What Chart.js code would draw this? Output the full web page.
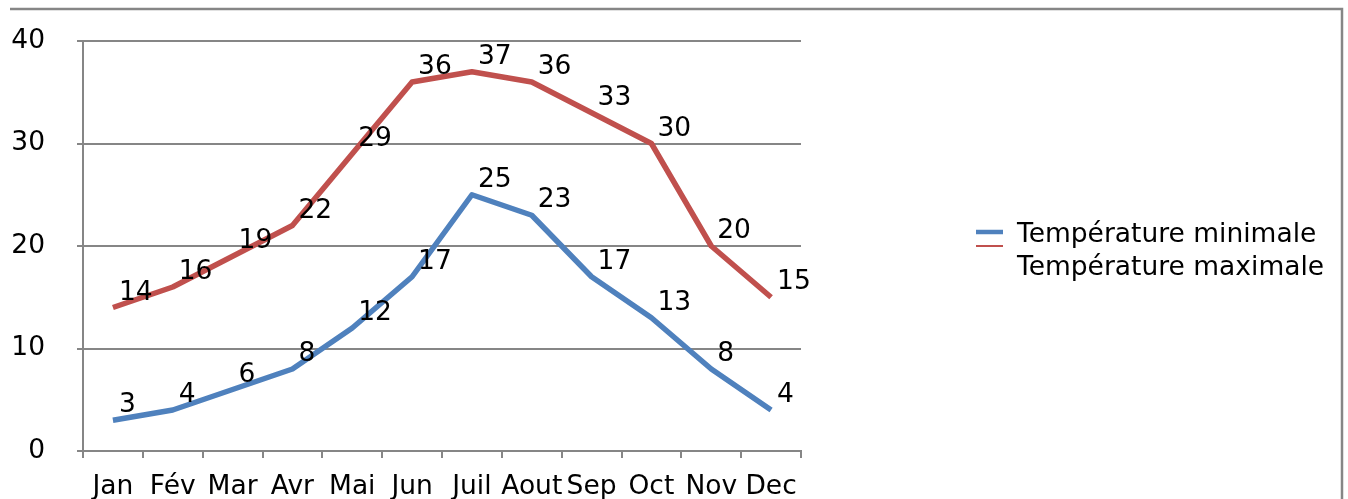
<!DOCTYPE html>
<html lang="fr">
<head>
<meta charset="utf-8">
<title>Températures mensuelles</title>
<script src="https://cdn.jsdelivr.net/npm/chart.js@4.4.1/dist/chart.umd.min.js"></script>
<style>
  html, body { margin: 0; padding: 0; background: #ffffff; }
  #wrap { width: 1348px; height: 499px; }
</style>
</head>
<body>
<div id="wrap"><canvas id="chart" width="1348" height="499"></canvas></div>
<script>
// Mois de l'année
const months = ['Jan', 'Fév', 'Mar', 'Avr', 'Mai', 'Jun', 'Juil', 'Aout', 'Sep', 'Oct', 'Nov', 'Dec'];
// Températures (°C)
const tempMin = [3, 4, 6, 8, 12, 17, 25, 23, 17, 13, 8, 4];
const tempMax = [14, 16, 19, 22, 29, 36, 37, 36, 33, 30, 20, 15];
// Graduations de l'axe vertical
const yTicks = [0, 10, 20, 30, 40];

const FONT = "'DejaVu Sans', Verdana, sans-serif";
const FONT_SIZE = 26.5;
const GRID = '#868686';

// Cadre extérieur (bord haut et bord droit)
const framePlugin = {
  id: 'frame',
  beforeDraw(chart) {
    const ctx = chart.ctx;
    ctx.save();
    ctx.strokeStyle = GRID;
    ctx.lineWidth = 2.5;
    ctx.beginPath();
    ctx.moveTo(10, 9);
    ctx.lineTo(1342, 9);
    ctx.lineTo(1342, chart.height + 2);
    ctx.stroke();
    ctx.restore();
  }
};

// Étiquettes de valeur à droite de chaque point
const valueLabels = {
  id: 'valueLabels',
  afterDatasetsDraw(chart) {
    const ctx = chart.ctx;
    ctx.save();
    ctx.font = FONT_SIZE + 'px ' + FONT;
    ctx.fillStyle = '#000000';
    ctx.textAlign = 'left';
    ctx.textBaseline = 'alphabetic';
    chart.data.datasets.forEach((ds, i) => {
      const meta = chart.getDatasetMeta(i);
      meta.data.forEach((pt, j) => {
        ctx.fillText(String(ds.data[j]), pt.x + 6, pt.y - 8);
      });
    });
    ctx.restore();
  }
};

// Légende à droite du graphique
const sideLegend = {
  id: 'sideLegend',
  afterDraw(chart) {
    const ctx = chart.ctx;
    const markerW = [4.5, 2];
    const markerY = [232, 246];
    const textY = [242, 275];
    ctx.save();
    chart.data.datasets.forEach((ds, i) => {
      ctx.strokeStyle = ds.borderColor;
      ctx.lineWidth = markerW[i];
      ctx.beginPath();
      ctx.moveTo(976, markerY[i]);
      ctx.lineTo(1003, markerY[i]);
      ctx.stroke();
      ctx.font = FONT_SIZE + 'px ' + FONT;
      ctx.fillStyle = '#000000';
      ctx.textAlign = 'left';
      ctx.textBaseline = 'alphabetic';
      ctx.fillText(ds.label, 1017, textY[i]);
    });
    ctx.restore();
  }
};

new Chart(document.getElementById('chart'), {
  type: 'line',
  data: {
    labels: months,
    datasets: [
      {
        label: 'Température minimale',
        data: tempMin,
        borderColor: '#4F81BD',
        backgroundColor: '#4F81BD',
        borderWidth: 5.5,
        pointRadius: 0,
        tension: 0,
        borderJoinStyle: 'round'
      },
      {
        label: 'Température maximale',
        data: tempMax,
        borderColor: '#C0504D',
        backgroundColor: '#C0504D',
        borderWidth: 5.5,
        pointRadius: 0,
        tension: 0,
        borderJoinStyle: 'round'
      }
    ]
  },
  options: {
    responsive: false,
    animation: false,
    devicePixelRatio: 1,
    layout: { padding: { top: 41, right: 547, bottom: 0, left: 0 } },
    plugins: {
      legend: { display: false },
      tooltip: { enabled: false }
    },
    scales: {
      x: {
        type: 'category',
        offset: true,
        grid: {
          offset: true,
          drawOnChartArea: false,
          drawTicks: true,
          tickLength: 7,
          color: GRID,
          lineWidth: 2
        },
        border: { display: true, color: GRID, width: 2 },
        ticks: {
          autoSkip: false,
          maxRotation: 0,
          minRotation: 0,
          padding: 13.5,
          color: '#000000',
          font: { family: FONT, size: FONT_SIZE }
        },
        afterFit(scale) {
          scale.height = 48;
          scale.paddingLeft = 0;
          scale.paddingRight = 0;
        }
      },
      y: {
        min: 0,
        max: 40,
        afterBuildTicks(scale) { scale.ticks = yTicks.map(v => ({ value: v })); },
        grid: {
          color: GRID,
          lineWidth: 2,
          drawTicks: true,
          tickLength: 6
        },
        border: { display: true, color: GRID, width: 2 },
        ticks: {
          padding: 32,
          color: '#000000',
          font: { family: FONT, size: FONT_SIZE }
        },
        afterFit(scale) {
          scale.width = 83;
          scale.paddingTop = 0;
          scale.paddingBottom = 0;
        }
      }
    }
  },
  plugins: [framePlugin, valueLabels, sideLegend]
});
</script>
</body>
</html>
